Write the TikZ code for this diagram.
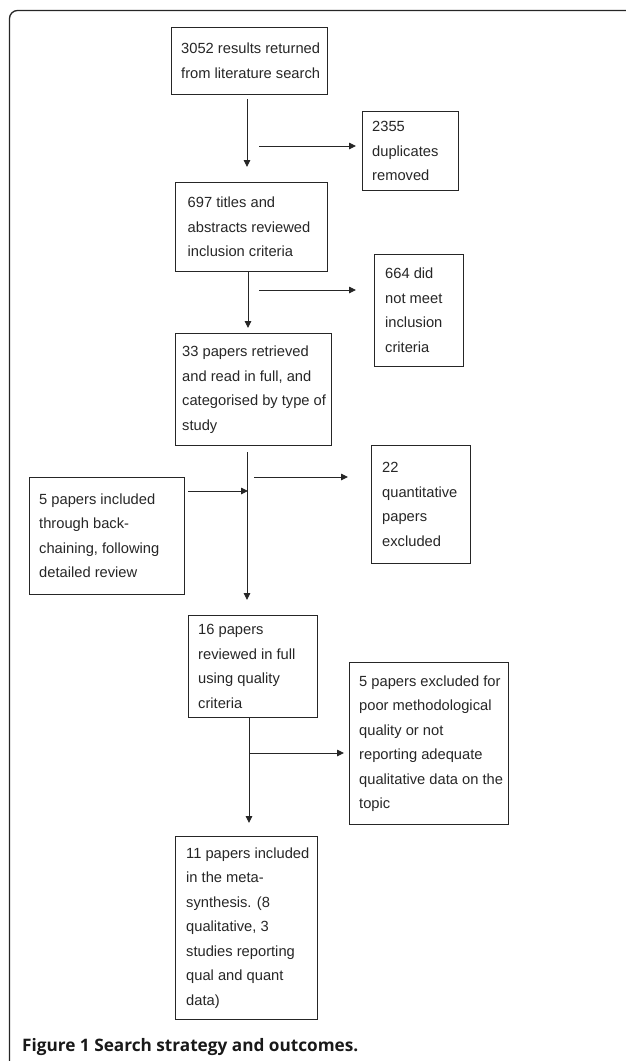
\documentclass[tikz,border=0pt]{standalone}
\usepackage{fontspec}
\setmainfont{Liberation Sans}
\newfontfamily\capfont{Open Sans}
\usetikzlibrary{arrows.meta}
\begin{document}
\begin{tikzpicture}[x=1pt,y=-1pt,
  line col/.style={draw=black!85},
  box/.style={line col, line width=0.9pt, rectangle, anchor=north west, inner sep=0pt},
  txt/.style={anchor=west, inner sep=0pt, align=left, font=\fontsize{14.7}{24.5}\selectfont, text=black!85},
  arr/.style={line col, line width=0.9pt, -{Triangle[length=7pt,width=6.5pt]}}
]
\useasboundingbox (0,0) rectangle (625,1061);
% frame
\draw[line col, line width=1.3pt, rounded corners=8pt] (9.5,1062) -- (9.5,10.5) -- (626,10.5);

% boxes
\node[box, minimum width=156pt, minimum height=67pt] (b1) at (171,27) {};
\node[txt] (t1) at ([xshift=10pt]b1.west) {3052 results returned\\from literature search};

\node[box, minimum width=96pt, minimum height=79pt] (b2) at (362,111) {};
\node[txt] (t2) at ([xshift=10pt]b2.west) {2355\\duplicates\\removed};

\node[box, minimum width=152pt, minimum height=89pt] (b3) at (175,182) {};
\node[txt] (t3) at ([xshift=12.5pt]b3.west) {697 titles and\\abstracts reviewed\\inclusion criteria};

\node[box, minimum width=89pt, minimum height=112pt] (b4) at (374,254) {};
\node[txt] (t4) at ([xshift=11pt]b4.west) {664 did\\not meet\\inclusion\\criteria};

\node[box, minimum width=156pt, minimum height=112pt] (b5) at (175,333) {};
\node[txt] (t5) at ([xshift=7pt]b5.west) {33 papers retrieved\\and read in full, and\\categorised by type of\\study};

\node[box, minimum width=99pt, minimum height=118pt] (b6) at (371,445) {};
\node[txt] (t6) at ([xshift=11pt]b6.west) {22\\quantitative\\papers\\excluded};

\node[box, minimum width=155pt, minimum height=117pt] (b7) at (29,477) {};
\node[txt] (t7) at ([xshift=10pt]b7.west) {5 papers included\\through back-\\chaining, following\\detailed review};

\node[box, minimum width=129pt, minimum height=102pt] (b8) at (188,615) {};
\node[txt] (t8) at ([xshift=10pt]b8.west) {16 papers\\reviewed in full\\using quality\\criteria};

\node[box, minimum width=159pt, minimum height=162pt] (b9) at (349,662) {};
\node[txt] (t9) at ([xshift=10pt]b9.west) {5 papers excluded for\\poor methodological\\quality or not\\reporting adequate\\qualitative data on the\\topic};

\node[box, minimum width=142pt, minimum height=183pt] (b10) at (175,836) {};
\node[txt] (t10) at ([xshift=11pt]b10.west) {11 papers included\\in the meta-\\synthesis. (8\\qualitative, 3\\studies reporting\\qual and quant\\data)};

% connector end points
\coordinate (v1s) at (247,99);   \coordinate (v1e) at (247,167);
\coordinate (s1s) at (259,146);  \coordinate (s1e) at (356,146);
\coordinate (v2s) at (248,271);  \coordinate (v2e) at (248,328);
\coordinate (s2s) at (259,290);  \coordinate (s2e) at (356,290);
\coordinate (v3s) at (247,452);  \coordinate (v3e) at (247,600);
\coordinate (l1s) at (188,491);  \coordinate (jn) at (248,491);
\coordinate (s3s) at (254,477);  \coordinate (s3e) at (348,477);
\coordinate (v4s) at (249,717);  \coordinate (v4e) at (249,823);
\coordinate (s4s) at (249,753);  \coordinate (s4e) at (344,753);

\draw[arr] (v1s) -- (v1e);
\draw[arr] (s1s) -- (s1e);
\draw[arr] (v2s) -- (v2e);
\draw[arr] (s2s) -- (s2e);
\draw[arr] (v3s) -- (v3e);
\draw[arr] (l1s) -- (jn);
\draw[arr] (s3s) -- (s3e);
\draw[arr] (v4s) -- (v4e);
\draw[arr] (s4s) -- (s4e);

% caption
\node[anchor=base west, inner sep=0pt, font=\capfont\bfseries\fontsize{17.2}{20}\selectfont, text=black!90] (cap) at (22,1051)
  {Figure 1 Search strategy and outcomes.};
\end{tikzpicture}
\end{document}
